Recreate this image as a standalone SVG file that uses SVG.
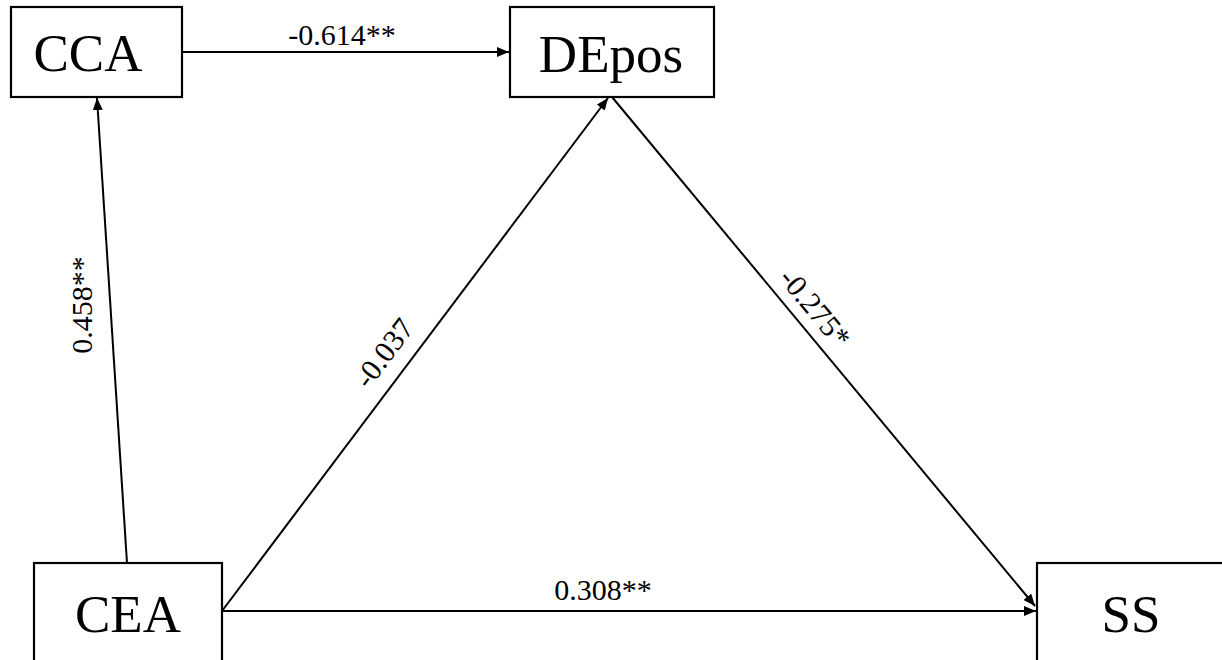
<svg xmlns="http://www.w3.org/2000/svg" width="1222" height="660" viewBox="0 0 1222 660">
<style>
.box{fill:#fff;stroke:#000;stroke-width:2.2}
.nt{font-family:"Liberation Serif","Times New Roman",serif;font-size:53px;fill:#000;text-anchor:middle}
.lt{font-family:"Liberation Serif","Times New Roman",serif;font-size:30px;fill:#000;text-anchor:middle}
.ed{stroke:#000;stroke-width:2;fill:none;marker-end:url(#ah)}
</style>
<defs>
<marker id="ah" viewBox="0 0 12 10" refX="12" refY="5" markerWidth="12" markerHeight="10" markerUnits="userSpaceOnUse" orient="auto">
<path d="M0,0 L12,5 L0,10 Z" fill="#000"/>
</marker>
</defs>
<rect width="1222" height="660" fill="#fff"/>
<g id="connectors">
<line class="ed" x1="182" y1="52" x2="509" y2="52"/>
<line class="ed" x1="127" y1="563" x2="97" y2="98"/>
<line class="ed" x1="222" y1="611" x2="608" y2="98"/>
<line class="ed" x1="612" y1="97" x2="1035" y2="606"/>
<line class="ed" x1="222" y1="611" x2="1036" y2="611"/>
<text class="lt" x="342" y="45">-0.614**</text>
<text class="lt" transform="translate(82,305) rotate(-90)" y="10">0.458**</text>
<text class="lt" transform="translate(384,353) rotate(-53.1)" y="10">-0.037</text>
<text class="lt" transform="translate(815,308) rotate(50.3)" y="10">-0.275*</text>
<text class="lt" x="603" y="600">0.308**</text>
</g>
<g id="node-CCA">
<rect class="box" x="11" y="7" width="171" height="90"/>
<text class="nt" x="88" y="71">CCA</text>
</g>
<g id="node-DEpos">
<rect class="box" x="510" y="7" width="204" height="90"/>
<text class="nt" x="611" y="72">DEpos</text>
</g>
<g id="node-CEA">
<rect class="box" x="34" y="563" width="188" height="105"/>
<text class="nt" x="128" y="632">CEA</text>
</g>
<g id="node-SS">
<rect class="box" x="1037" y="563" width="190" height="105"/>
<text class="nt" x="1131" y="632">SS</text>
</g>
</svg>
